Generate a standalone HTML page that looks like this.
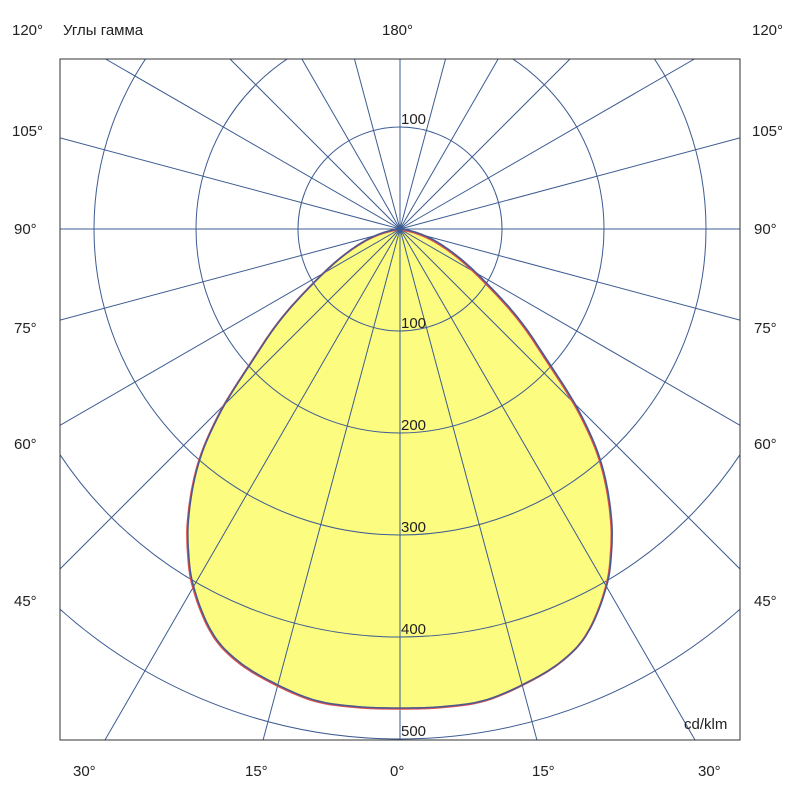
<!DOCTYPE html>
<html><head><meta charset="utf-8"><style>
html,body{margin:0;padding:0;background:#fff;overflow:hidden;width:800px;height:800px}
svg{display:block}
svg text{font-family:"Liberation Sans",sans-serif;font-size:15px;fill:#222}
</style></head><body>
<svg id="s" width="800" height="800" viewBox="0 0 800 800" xmlns="http://www.w3.org/2000/svg">
<svg x="60" y="59" width="680" height="681" viewBox="60 59 680 681" overflow="hidden"><g id="plot"></g></svg>
<rect x="60" y="59" width="680" height="681" fill="none" stroke="#333" stroke-width="1"/>
<text x="12" y="35">120°</text><text x="63" y="35">Углы гамма</text><text x="382" y="35">180°</text><text x="752" y="35">120°</text>
<text x="12" y="136">105°</text><text x="752" y="136">105°</text>
<text x="14" y="234">90°</text><text x="754" y="234">90°</text>
<text x="14" y="333">75°</text><text x="754" y="333">75°</text>
<text x="14" y="449">60°</text><text x="754" y="449">60°</text>
<text x="14" y="606">45°</text><text x="754" y="606">45°</text>
<text x="73" y="776">30°</text><text x="245" y="776">15°</text><text x="390" y="776">0°</text><text x="532" y="776">15°</text><text x="698" y="776">30°</text>
<text x="684" y="729">cd/klm</text>
</svg>
<script>
var ns="http://www.w3.org/2000/svg",g=document.getElementById("plot"),cx=400,cy=229;
function el(t,a){var e=document.createElementNS(ns,t);for(var k in a)e.setAttribute(k,a[k]);g.appendChild(e);return e;}
var tb=[[-10,480],[0,479],[5,479.5],[10,479],[15,472],[20.7,461],[24.8,446],[30.4,410],[33,388],[36,360],[41,305],[44.4,257],[48,201],[52,158],[58,102],[65,62],[72,35],[82,7],[90,0],[100,0]];
function I(a){for(var i=1;i<tb.length-2;i++){if(a<=tb[i+1][0]){var p0=tb[i-1],p1=tb[i],p2=tb[i+1],p3=tb[i+2];var h=p2[0]-p1[0],t=(a-p1[0])/h;
var m1=(p2[1]-p0[1])/(p2[0]-p0[0])*h,m2=(p3[1]-p1[1])/(p3[0]-p1[0])*h;var t2=t*t,t3=t2*t;
return Math.max(0,(2*t3-3*t2+1)*p1[1]+(t3-2*t2+t)*m1+(-2*t3+3*t2)*p2[1]+(t3-t2)*m2);}}return 0;}
var pts=[];for(var a=-90;a<=90;a+=0.5){var r=I(Math.abs(a)),rad=a*Math.PI/180;pts.push((cx+r*Math.sin(rad)).toFixed(1)+","+(cy+r*Math.cos(rad)).toFixed(1));}
var d="M"+pts.join(" L")+"Z";
el("path",{d:d,fill:"#fcfc80",stroke:"none"});
for(var k=0;k<24;k++){var rad=k*15*Math.PI/180,sx=Math.sin(rad),sy=Math.cos(rad),L=2000;
if(sx>1e-6)L=Math.min(L,(740-cx)/sx);if(sx<-1e-6)L=Math.min(L,(60-cx)/sx);if(sy>1e-6)L=Math.min(L,(740-cy)/sy);if(sy<-1e-6)L=Math.min(L,(59-cy)/sy);
el("line",{x1:cx,y1:cy,x2:cx+L*sx,y2:cy+L*sy,stroke:"#3d5c92","stroke-width":1});}
[102,204,306,408,510].forEach(function(r){el("circle",{cx:cx,cy:cy,r:r,fill:"none",stroke:"#3d5c92","stroke-width":1});});
el("path",{d:d,fill:"none",stroke:"#e05050","stroke-width":2,transform:"translate(-0.7,0.7)"});
el("path",{d:d,fill:"none",stroke:"#4a5a90","stroke-width":1.6});
el("circle",{cx:cx,cy:cy,r:3,fill:"#3d5c92"});
function tx(x,y,s){var e=el("text",{x:x,y:y});e.textContent=s;}
tx(401,124,"100");tx(401,328,"100");tx(401,430,"200");tx(401,532,"300");tx(401,634,"400");tx(401,736,"500");
</script>
</body></html>
